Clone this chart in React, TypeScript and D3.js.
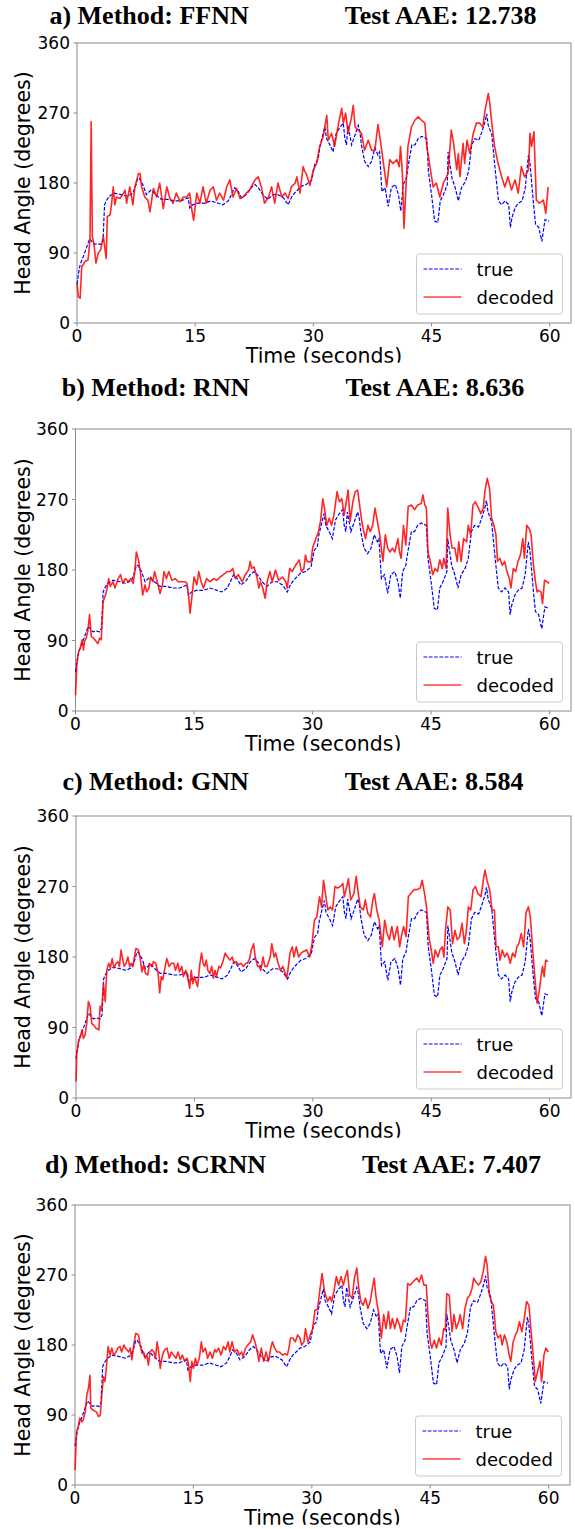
import React from 'react'
import * as d3 from 'd3'

// time (s), head angle (deg)
const trueAngle: [number, number][] = [
  [0, 50], [0.3, 71], [0.5, 78], [0.9, 88], [1.35, 101], [1.6, 108], [1.8, 106], [2.2, 101], [2.6, 102], [3.05, 101],
  [3.3, 106], [3.5, 152], [3.7, 157], [4.1, 163], [4.75, 167], [5.6, 165], [6.4, 163], [7.1, 167], [7.5, 178], [7.7, 186],
  [7.9, 186], [8.35, 178], [8.8, 165], [9.4, 171], [10.0, 165], [10.7, 159], [11.5, 159], [12.4, 157], [13.2, 157], [14.1, 161],
  [14.3, 148], [14.7, 152], [15.3, 154], [16.2, 154], [17.0, 157], [17.9, 154], [18.5, 152], [19.2, 157], [19.6, 165], [20.0, 174],
  [20.4, 170], [20.9, 161], [21.5, 165], [22.1, 174], [22.6, 178], [23.0, 174], [23.6, 165], [24.2, 159], [24.9, 165], [25.5, 165],
  [26.2, 161], [26.8, 152], [27.2, 161], [27.6, 167], [28.5, 176], [29.1, 178], [29.8, 184], [30.2, 205], [30.6, 210], [30.8, 225],
  [31.2, 242], [31.46, 252], [31.67, 237], [32.1, 229], [32.5, 220], [32.9, 244], [33.4, 252], [33.8, 257], [34.0, 237], [34.2, 229],
  [34.4, 254], [34.85, 229], [35.3, 242], [35.7, 254], [35.9, 246], [36.1, 229], [36.5, 208], [36.97, 201], [37.4, 208], [37.8, 225],
  [38.2, 216], [38.4, 220], [38.7, 169], [39.1, 174], [39.5, 150], [39.9, 174], [40.4, 178], [40.8, 165], [41.1, 144], [41.4, 178],
  [41.8, 186], [42.05, 203], [42.5, 229], [42.9, 229], [43.3, 237], [43.75, 240], [44.4, 237], [44.6, 195], [45.0, 165], [45.4, 131],
  [45.8, 129], [46.1, 157], [46.5, 165], [47.0, 178], [47.1, 220], [47.6, 186], [48.0, 174], [48.4, 157], [48.8, 174], [49.3, 182],
  [49.7, 195], [50.1, 229], [50.5, 237], [51.0, 235], [51.4, 246], [51.8, 259], [52.0, 269], [52.2, 254], [52.65, 242], [53.1, 195],
  [53.5, 157], [53.9, 152], [54.35, 157], [54.8, 152], [55.0, 123], [55.2, 135], [55.6, 148], [56.0, 154], [56.5, 157], [56.9, 174],
  [57.3, 216], [57.5, 205], [57.95, 152], [58.2, 127], [58.6, 123], [59.0, 105], [59.4, 133], [59.9, 131],
]

const decodedFFNN: [number, number][] = [
  [0, 51], [0.17, 34], [0.4, 32], [0.6, 72], [1.0, 79], [1.4, 81], [1.65, 107], [1.8, 259], [1.95, 111], [2.15, 102],
  [2.4, 77], [2.7, 90], [3.0, 94], [3.35, 111], [3.7, 83], [3.85, 137], [4.2, 139], [4.4, 154], [4.6, 175], [4.8, 152],
  [5.0, 162], [5.45, 160], [5.9, 167], [6.1, 171], [6.3, 154], [6.7, 175], [7.1, 152], [7.35, 175], [7.8, 192], [8.0, 192],
  [8.2, 175], [8.6, 162], [9.0, 158], [9.26, 143], [9.7, 173], [10.1, 162], [10.5, 180], [10.95, 147], [11.4, 175], [11.8, 160],
  [12.2, 154], [12.6, 167], [13.1, 156], [13.5, 162], [13.9, 162], [14.3, 167], [14.5, 150], [14.8, 132], [15.2, 167], [15.6, 154],
  [16.0, 175], [16.4, 154], [16.9, 171], [17.3, 175], [17.7, 158], [18.1, 167], [18.6, 158], [19.0, 175], [19.4, 184], [19.8, 162],
  [20.25, 173], [20.7, 160], [21.1, 162], [21.5, 167], [21.9, 171], [22.6, 184], [23.0, 188], [23.4, 175], [23.8, 154], [24.3, 162],
  [24.7, 175], [25.1, 154], [25.5, 180], [26.0, 162], [26.4, 167], [26.8, 160], [27.2, 175], [27.7, 180], [27.9, 188], [28.3, 167],
  [28.7, 201], [28.9, 195], [29.1, 192], [29.56, 177], [30.0, 197], [30.4, 205], [30.8, 227], [31.25, 240], [31.7, 267], [31.9, 235],
  [32.3, 244], [32.7, 227], [33.2, 257], [33.6, 276], [33.8, 257], [34.1, 270], [34.4, 244], [34.85, 265], [35.06, 280], [35.3, 252],
  [35.7, 248], [36.1, 244], [36.5, 222], [36.96, 235], [37.4, 222], [37.8, 222], [38.2, 255], [38.5, 235], [38.9, 205], [39.3, 175],
  [39.7, 210], [40.1, 205], [40.6, 210], [40.9, 201], [41.06, 227], [41.3, 192], [41.5, 122], [41.8, 184], [42.0, 227], [42.45, 252],
  [42.9, 261], [43.3, 265], [43.7, 261], [44.15, 257], [44.4, 227], [44.8, 201], [45.2, 175], [45.6, 180], [46.05, 162], [46.5, 180],
  [46.7, 184], [47.1, 192], [47.5, 248], [47.8, 231], [48.2, 197], [48.4, 218], [48.6, 188], [49.0, 231], [49.2, 205], [49.5, 235],
  [49.85, 218], [50.3, 244], [50.7, 257], [51.1, 257], [51.5, 252], [51.8, 274], [52.2, 295], [52.4, 282], [52.6, 261], [53.0, 227],
  [53.45, 205], [53.9, 188], [54.3, 175], [54.7, 188], [55.15, 171], [55.6, 184], [56.0, 167], [56.4, 201], [56.8, 188], [57.3, 197],
  [57.5, 244], [57.7, 227], [58.0, 246], [58.3, 158], [58.7, 154], [59.2, 158], [59.5, 141], [59.8, 175],
]

const decodedRNN: [number, number][] = [
  [0, 20], [0.17, 59], [0.4, 76], [0.6, 80], [0.85, 91], [1.0, 78], [1.15, 89], [1.36, 93], [1.57, 103], [1.78, 123],
  [2.0, 95], [2.3, 93], [2.6, 89], [2.84, 86], [3.05, 93], [3.26, 91], [3.5, 140], [3.8, 148], [4.0, 157], [4.2, 169],
  [4.4, 159], [4.75, 165], [5.0, 157], [5.4, 169], [5.7, 174], [6.0, 163], [6.3, 169], [6.65, 165], [7.0, 169], [7.3, 163],
  [7.5, 178], [7.7, 203], [8.0, 191], [8.2, 178], [8.5, 148], [8.8, 161], [9.0, 152], [9.3, 157], [9.5, 171], [9.8, 165],
  [10.0, 178], [10.3, 167], [10.7, 150], [11.0, 161], [11.2, 178], [11.5, 169], [11.8, 178], [12.2, 167], [12.6, 169], [13.0, 165],
  [13.4, 165], [13.9, 165], [14.1, 163], [14.3, 148], [14.5, 125], [14.8, 152], [15.0, 171], [15.35, 161], [15.6, 178], [15.9, 165],
  [16.2, 157], [16.6, 169], [17.0, 165], [17.5, 169], [17.9, 167], [18.3, 171], [18.7, 174], [19.2, 178], [19.6, 178], [19.9, 182],
  [20.2, 169], [20.6, 174], [21.1, 165], [21.5, 174], [21.9, 180], [22.1, 191], [22.3, 182], [22.6, 184], [23.0, 169], [23.2, 157],
  [23.4, 165], [23.7, 157], [24.0, 144], [24.25, 165], [24.6, 178], [24.9, 165], [25.3, 180], [25.7, 167], [26.2, 171], [26.6, 165],
  [26.8, 157], [27.1, 182], [27.4, 178], [27.85, 186], [28.3, 193], [28.6, 178], [28.9, 182], [29.1, 199], [29.3, 191], [29.8, 190],
  [30.0, 208], [30.4, 220], [30.7, 227], [31.0, 242], [31.3, 271], [31.5, 259], [31.8, 237], [32.1, 246], [32.4, 237], [32.7, 250],
  [33.1, 280], [33.4, 267], [33.7, 271], [34.0, 250], [34.2, 263], [34.5, 282], [34.75, 242], [35.1, 267], [35.4, 280], [35.7, 282],
  [36.0, 259], [36.3, 237], [36.7, 220], [37.0, 237], [37.3, 229], [37.6, 237], [37.9, 259], [38.2, 242], [38.5, 225], [38.9, 191],
  [39.2, 225], [39.5, 208], [39.8, 203], [40.1, 208], [40.4, 203], [40.8, 220], [41.0, 203], [41.2, 195], [41.5, 237], [41.8, 212],
  [42.1, 261], [42.5, 263], [42.9, 257], [43.3, 263], [43.75, 265], [43.96, 276], [44.2, 263], [44.4, 259], [44.6, 203], [44.9, 191],
  [45.2, 174], [45.5, 182], [45.8, 178], [46.1, 193], [46.4, 182], [46.6, 195], [46.9, 182], [47.1, 259], [47.4, 225], [47.65, 208],
  [48.0, 208], [48.3, 191], [48.5, 216], [48.8, 191], [49.1, 220], [49.5, 216], [49.7, 237], [50.0, 225], [50.3, 263], [50.6, 267],
  [51.0, 259], [51.3, 252], [51.6, 259], [51.8, 280], [52.1, 297], [52.4, 284], [52.65, 246], [52.95, 237], [53.2, 225], [53.4, 191],
  [53.7, 195], [54.0, 186], [54.3, 191], [54.6, 178], [54.9, 169], [55.1, 157], [55.4, 182], [55.7, 178], [56.0, 191], [56.3, 199],
  [56.6, 220], [56.8, 195], [57.1, 237], [57.4, 233], [57.65, 225], [57.95, 186], [58.2, 165], [58.4, 152], [58.6, 154], [58.9, 152],
  [59.1, 137], [59.35, 167], [59.65, 165], [59.95, 163],
]

const decodedGNN: [number, number][] = [
  [0, 21], [0.1, 57], [0.35, 74], [0.55, 78], [0.76, 87], [0.93, 76], [1.14, 80], [1.36, 95], [1.57, 123], [1.78, 117],
  [2.0, 95], [2.25, 93], [2.54, 89], [2.9, 87], [3.05, 117], [3.26, 112], [3.47, 146], [3.7, 123], [3.9, 163], [4.15, 172],
  [4.36, 166], [4.58, 178], [4.8, 166], [5.1, 172], [5.3, 174], [5.5, 168], [5.7, 189], [5.9, 178], [6.1, 168], [6.35, 172],
  [6.57, 180], [6.8, 168], [7.0, 172], [7.2, 168], [7.4, 180], [7.6, 191], [7.9, 189], [8.1, 180], [8.35, 161], [8.56, 170],
  [8.8, 159], [9.1, 157], [9.3, 172], [9.6, 168], [9.8, 174], [10.1, 172], [10.4, 159], [10.6, 134], [10.8, 155], [11.0, 151],
  [11.3, 168], [11.5, 178], [11.8, 168], [12.1, 172], [12.4, 172], [12.6, 163], [12.9, 172], [13.1, 161], [13.4, 168], [13.6, 155],
  [13.9, 163], [14.2, 151], [14.4, 140], [14.6, 163], [14.8, 146], [15.0, 155], [15.4, 142], [15.7, 172], [15.9, 185], [16.1, 172],
  [16.3, 168], [16.5, 176], [16.7, 163], [16.95, 159], [17.2, 168], [17.4, 153], [17.6, 163], [17.8, 155], [18.1, 168], [18.3, 166],
  [18.6, 174], [18.9, 185], [19.2, 180], [19.5, 176], [19.8, 180], [20.0, 172], [20.3, 174], [20.6, 170], [20.9, 172], [21.2, 168],
  [21.5, 172], [21.7, 172], [22.0, 178], [22.2, 189], [22.5, 197], [22.7, 180], [23.0, 168], [23.2, 168], [23.4, 163], [23.7, 180],
  [23.9, 168], [24.2, 168], [24.6, 180], [24.8, 197], [25.1, 180], [25.3, 185], [25.6, 172], [25.9, 163], [26.2, 168], [26.5, 159],
  [26.7, 153], [26.9, 168], [27.1, 185], [27.4, 193], [27.6, 180], [27.9, 193], [28.2, 180], [28.5, 185], [28.8, 187], [29.2, 189],
  [29.6, 180], [29.9, 197], [30.2, 227], [30.5, 231], [30.85, 257], [31.1, 244], [31.35, 278], [31.65, 257], [31.9, 240], [32.2, 244],
  [32.5, 240], [32.8, 270], [33.1, 268], [33.5, 270], [33.8, 274], [34.0, 257], [34.3, 270], [34.5, 280], [34.8, 253], [35.2, 261],
  [35.5, 283], [35.7, 266], [36.0, 244], [36.4, 240], [36.65, 253], [36.95, 236], [37.3, 231], [37.6, 253], [37.8, 261], [38.1, 240],
  [38.4, 227], [38.8, 193], [39.1, 227], [39.4, 210], [39.7, 202], [40.0, 219], [40.3, 202], [40.7, 219], [41.0, 193], [41.2, 206],
  [41.5, 219], [41.8, 206], [42.1, 257], [42.4, 261], [42.8, 266], [43.2, 266], [43.6, 268], [43.85, 278], [44.15, 261], [44.4, 244],
  [44.7, 206], [45.0, 189], [45.25, 172], [45.5, 189], [45.85, 180], [46.1, 189], [46.4, 193], [46.6, 180], [46.8, 214], [47.1, 244],
  [47.4, 240], [47.7, 197], [48.0, 214], [48.3, 202], [48.6, 206], [48.9, 223], [49.2, 197], [49.45, 214], [49.7, 244], [50.0, 240],
  [50.3, 266], [50.6, 270], [50.9, 261], [51.3, 257], [51.6, 278], [51.8, 291], [52.1, 276], [52.4, 266], [52.7, 240], [53.0, 240],
  [53.2, 193], [53.5, 193], [53.7, 176], [54.0, 189], [54.3, 180], [54.6, 185], [54.8, 180], [55.0, 172], [55.3, 185], [55.6, 180],
  [55.85, 193], [56.1, 197], [56.4, 210], [56.7, 193], [57.0, 236], [57.3, 244], [57.55, 231], [57.85, 189], [58.05, 163], [58.4, 121],
  [58.7, 138], [58.9, 155], [59.1, 168], [59.3, 155], [59.5, 176], [59.8, 174],
]

const decodedSCRNN: [number, number][] = [
  [0, 19], [0.2, 69], [0.4, 73], [0.6, 86], [0.85, 81], [1.05, 84], [1.3, 94], [1.5, 116], [1.7, 124], [1.9, 141],
  [2.0, 99], [2.3, 96], [2.7, 94], [3.0, 88], [3.2, 90], [3.4, 116], [3.6, 139], [3.8, 133], [4.0, 154], [4.2, 178],
  [4.45, 167], [4.66, 176], [4.9, 167], [5.2, 171], [5.4, 176], [5.7, 178], [5.9, 171], [6.2, 180], [6.4, 176], [6.8, 171],
  [7.0, 176], [7.2, 161], [7.5, 184], [7.7, 195], [8.05, 193], [8.26, 180], [8.5, 169], [8.7, 171], [8.9, 163], [9.1, 167],
  [9.3, 154], [9.5, 171], [9.75, 174], [10.0, 171], [10.2, 163], [10.4, 184], [10.6, 171], [10.8, 150], [11.0, 163], [11.2, 171],
  [11.4, 174], [11.65, 176], [11.95, 163], [12.2, 171], [12.5, 167], [12.8, 163], [13.05, 171], [13.35, 161], [13.6, 167], [13.9, 159],
  [14.2, 163], [14.4, 154], [14.6, 133], [14.8, 159], [15.0, 150], [15.25, 163], [15.45, 154], [15.75, 163], [16.0, 184], [16.2, 171],
  [16.5, 176], [16.8, 163], [17.1, 171], [17.4, 163], [17.7, 174], [17.9, 171], [18.2, 176], [18.5, 167], [18.8, 178], [19.1, 174],
  [19.4, 184], [19.6, 171], [19.9, 184], [20.2, 171], [20.55, 174], [20.8, 167], [21.1, 171], [21.3, 165], [21.6, 176], [21.9, 180],
  [22.25, 184], [22.5, 193], [22.8, 184], [23.1, 171], [23.3, 159], [23.6, 176], [23.9, 159], [24.2, 171], [24.5, 159], [24.8, 176],
  [25.0, 184], [25.3, 176], [25.6, 171], [25.9, 171], [26.3, 167], [26.6, 169], [26.9, 167], [27.1, 176], [27.3, 189], [27.6, 189],
  [27.9, 184], [28.2, 193], [28.5, 189], [28.7, 180], [29.0, 184], [29.2, 201], [29.5, 184], [29.8, 193], [30.1, 201], [30.4, 225],
  [30.7, 225], [31.05, 253], [31.3, 272], [31.6, 249], [32.0, 236], [32.3, 242], [32.5, 236], [32.8, 249], [33.1, 268], [33.4, 257],
  [33.7, 268], [34.0, 257], [34.2, 266], [34.5, 276], [34.8, 244], [35.1, 240], [35.4, 266], [35.7, 279], [35.9, 257], [36.2, 236],
  [36.5, 231], [36.8, 240], [37.1, 227], [37.4, 236], [37.6, 249], [37.9, 266], [38.1, 244], [38.3, 231], [38.5, 219], [38.8, 189],
  [39.1, 219], [39.4, 201], [39.7, 223], [39.95, 201], [40.2, 214], [40.5, 201], [40.8, 214], [41.1, 206], [41.3, 197], [41.6, 212],
  [41.85, 210], [42.15, 259], [42.45, 257], [42.8, 261], [43.1, 264], [43.3, 266], [43.6, 261], [43.9, 270], [44.2, 257], [44.5, 257],
  [44.7, 219], [45.0, 184], [45.2, 176], [45.5, 186], [45.8, 176], [46.1, 189], [46.4, 180], [46.7, 201], [46.9, 199], [47.1, 246],
  [47.4, 244], [47.75, 197], [48.0, 219], [48.3, 201], [48.6, 210], [48.8, 219], [49.1, 201], [49.4, 227], [49.7, 240], [50.0, 244],
  [50.3, 253], [50.5, 266], [50.8, 261], [51.1, 257], [51.4, 261], [51.7, 274], [52.0, 294], [52.2, 283], [52.5, 244], [52.75, 236],
  [53.0, 231], [53.3, 197], [53.6, 189], [53.9, 193], [54.1, 180], [54.4, 193], [54.7, 184], [55.0, 167], [55.2, 159], [55.5, 184],
  [55.8, 193], [56.0, 197], [56.3, 210], [56.6, 197], [56.9, 214], [57.2, 236], [57.5, 231], [57.7, 206], [58.0, 171], [58.3, 133],
  [58.6, 146], [58.9, 159], [59.1, 133], [59.4, 167], [59.65, 176], [59.95, 171],
]

const methods = ['a) Method: FFNN', 'b) Method: RNN', 'c) Method: GNN', 'd) Method: SCRNN']
const aaeLabels = ['Test AAE: 12.738', 'Test AAE: 8.636', 'Test AAE: 8.584', 'Test AAE: 7.407']
const decodedSeries = [decodedFFNN, decodedRNN, decodedGNN, decodedSCRNN]
const xTicks = [0, 15, 30, 45, 60]
const yTicks = [0, 90, 180, 270, 360]

// layout of each subplot (pixels)
const frames = [
  { left: 77, right: 571, top: 43, bottom: 323, titleY: 24 },
  { left: 75.5, right: 571, top: 429, bottom: 711, titleY: 395.5 },
  { left: 76, right: 571, top: 816, bottom: 1098, titleY: 789.5 },
  { left: 75, right: 570, top: 1205, bottom: 1485, titleY: 1173 },
]

const SANS = 'DejaVu Sans, Verdana, sans-serif'
const SERIF = '"Liberation Serif", "Times New Roman", serif'
const SPINE = '#8c8c8c'

function Panel({ idx }: { idx: number }) {
  const f = frames[idx]
  const decoded = decodedSeries[idx]
  const x = d3.scaleLinear().domain([0, 62.7]).range([f.left, f.right])
  const y = d3.scaleLinear().domain([0, 360]).range([f.bottom, f.top])
  const line = d3.line<[number, number]>().x(d => x(d[0])).y(d => y(d[1]))
  const clipId = `clip-${idx}`
  const midX = (f.left + f.right) / 2
  const midY = (f.top + f.bottom) / 2

  // legend box
  const lw = 146, lh = 60
  const lx = f.right - 8.5 - lw
  const ly = f.bottom - 9 - lh

  return (
    <g>
      <defs>
        <clipPath id={clipId}>
          <rect x={0} y={f.bottom} width={575} height={39.7} />
        </clipPath>
      </defs>
      <text x={293} y={f.titleY} textAnchor="middle" fontFamily={SERIF} fontWeight="bold" fontSize={26} fill="#000">
        <tspan>{methods[idx]}</tspan>
        <tspan dx={96}>{aaeLabels[idx]}</tspan>
      </text>

      <rect x={f.left} y={f.top} width={f.right - f.left} height={f.bottom - f.top} fill="#fff" stroke={SPINE} strokeWidth={1} />

      <path d={line(trueAngle) || ''} fill="none" stroke="#0000ff" strokeWidth={1.2} strokeDasharray="3.7,1.6" />
      <path d={line(decoded) || ''} fill="none" stroke="#ff0000" strokeOpacity={0.85} strokeWidth={1.6} strokeLinejoin="round" />

      {yTicks.map(t => (
        <g key={`y${t}`}>
          <line x1={f.left - 3.5} x2={f.left} y1={y(t)} y2={y(t)} stroke={SPINE} strokeWidth={1} />
          <text x={f.left - 7} y={y(t)} dy="0.36em" textAnchor="end" fontFamily={SANS} fontSize={17} fill="#000">{t}</text>
        </g>
      ))}
      {xTicks.map(t => (
        <g key={`x${t}`}>
          <line x1={x(t)} x2={x(t)} y1={f.bottom} y2={f.bottom + 3.5} stroke={SPINE} strokeWidth={1} />
          <text x={x(t)} y={f.bottom + 18.5} textAnchor="middle" fontFamily={SANS} fontSize={17} fill="#000">{t}</text>
        </g>
      ))}

      <text transform={`translate(${29.5},${midY}) rotate(-90)`} textAnchor="middle" fontFamily={SANS} fontSize={20.5} fill="#000">
        Head Angle (degrees)
      </text>
      <g clipPath={`url(#${clipId})`}>
        <text x={midX} y={f.bottom + 40} textAnchor="middle" fontFamily={SANS} fontSize={20.5} fill="#000">
          Time (seconds)
        </text>
      </g>

      <rect x={lx} y={ly} width={lw} height={lh} rx={3} fill="#fff" fillOpacity={0.8} stroke="#cccccc" strokeWidth={1} />
      <line x1={lx + 7} x2={lx + 45} y1={ly + 15} y2={ly + 15} stroke="#0000ff" strokeWidth={1.2} strokeDasharray="3.7,1.6" />
      <text x={lx + 60} y={ly + 21.5} fontFamily={SANS} fontSize={18} fill="#000">true</text>
      <line x1={lx + 7} x2={lx + 45} y1={ly + 43} y2={ly + 43} stroke="#ff0000" strokeOpacity={0.75} strokeWidth={1.5} />
      <text x={lx + 60} y={ly + 49.5} fontFamily={SANS} fontSize={18} fill="#000">decoded</text>
    </g>
  )
}

export default function App() {
  return (
    <svg width={575} height={1529} style={{ position: 'absolute', left: 0, top: 0, background: '#fff' }}>
      <rect x={0} y={0} width={575} height={1529} fill="#fff" />
      {frames.map((_, i) => <Panel key={i} idx={i} />)}
    </svg>
  )
}
